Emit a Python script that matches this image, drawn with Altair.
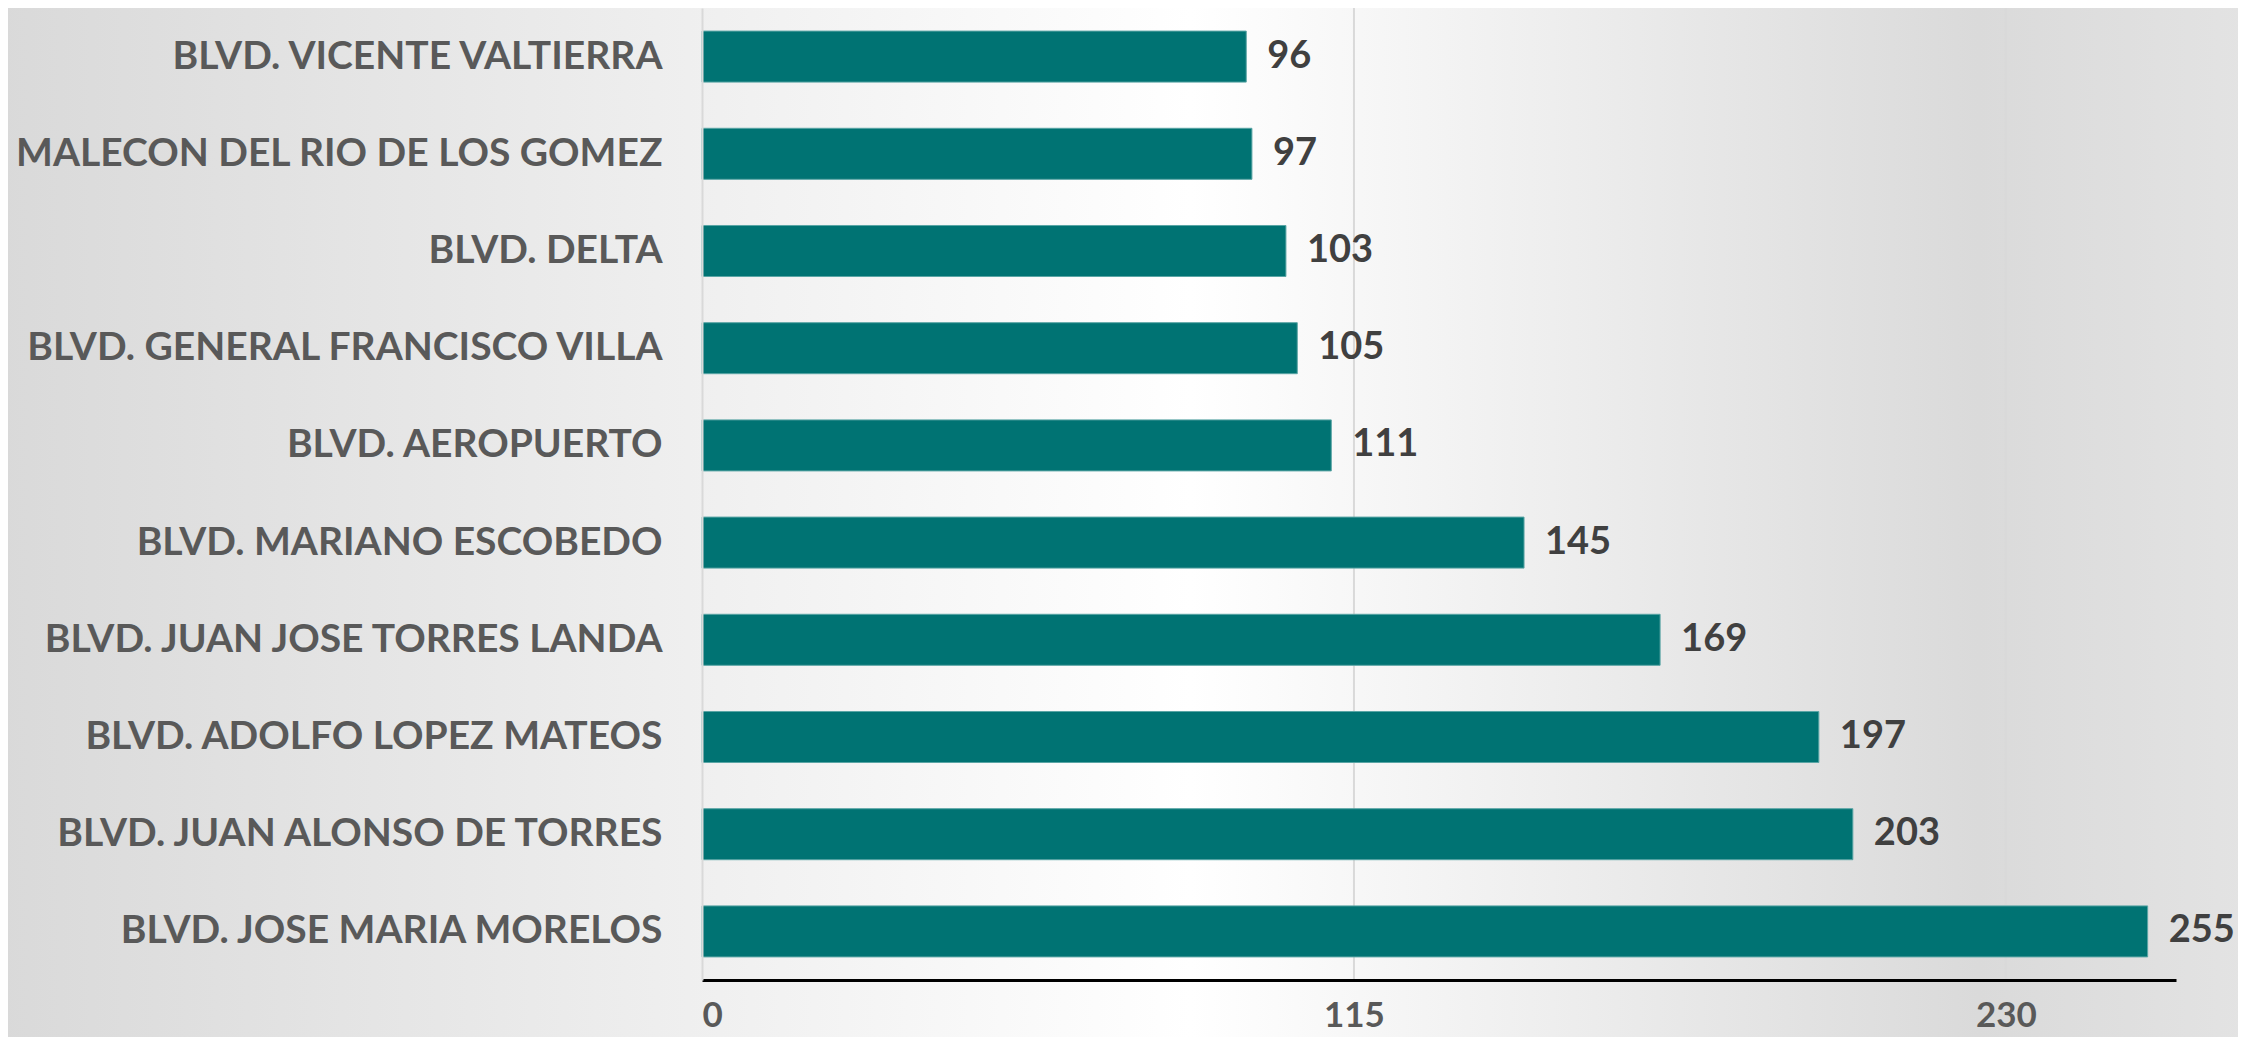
import altair as alt
import pandas as pd

streets = [
    "BLVD. VICENTE VALTIERRA",
    "MALECON DEL RIO DE LOS GOMEZ",
    "BLVD. DELTA",
    "BLVD. GENERAL FRANCISCO VILLA",
    "BLVD. AEROPUERTO",
    "BLVD. MARIANO ESCOBEDO",
    "BLVD. JUAN JOSE TORRES LANDA",
    "BLVD. ADOLFO LOPEZ MATEOS",
    "BLVD. JUAN ALONSO DE TORRES",
    "BLVD. JOSE MARIA MORELOS",
]
counts = [96, 97, 103, 105, 111, 145, 169, 197, 203, 255]
tick_values = [0, 115, 230]
grid_values = [115, 230]

W, H = 1474, 972
PAD_L, PAD_T, PAD_R, PAD_B = 694, 0, 62, 57
FONT = "Lato"

df = pd.DataFrame({"street": streets, "count": counts})
grid_df = pd.DataFrame({"v": grid_values})

xscale = alt.Scale(domain=[0, 260], nice=False, zero=True)
yscale = alt.Scale(domain=streets, paddingInner=0.475, paddingOuter=0.2375)

bg = alt.Chart(pd.DataFrame({"a": [0]})).mark_rect(
    fill=alt.Gradient(
        gradient="linear",
        x1=0, x2=1, y1=0, y2=0,
        stops=[
            alt.GradientStop(offset=0, color="#d9d9d9"),
            alt.GradientStop(offset=0.53, color="#ffffff"),
            alt.GradientStop(offset=0.88, color="#dadada"),
            alt.GradientStop(offset=1, color="#e3e3e3"),
        ],
    ),
    clip=False,
).encode(
    x=alt.value(-PAD_L - 10),
    x2=alt.value(W + PAD_R + 10),
    y=alt.value(-PAD_T - 10),
    y2=alt.value(H + PAD_B + 10),
)

grid = alt.Chart(grid_df).mark_rule(color="#d9d9d9", strokeWidth=2).encode(
    x=alt.X("v:Q", scale=xscale),
    y=alt.value(0),
    y2=alt.value(H),
)

bars = alt.Chart(df).mark_bar(color="#007373", stroke="#5aa5a5", strokeWidth=1).encode(
    x=alt.X(
        "count:Q",
        scale=xscale,
        axis=alt.Axis(
            values=tick_values,
            title=None,
            grid=False,
            ticks=False,
            domainColor="#000000",
            domainWidth=3,
            labelFont=FONT,
            labelFontSize=35,
            labelFontWeight="bold",
            labelColor="#595959",
            labelPadding=18,
            zindex=1,
        ),
    ),
    y=alt.Y(
        "street:N",
        scale=yscale,
        sort=streets,
        axis=alt.Axis(
            title=None,
            ticks=False,
            domainColor="#d9d9d9",
            domainWidth=2,
            labelFont=FONT,
            labelFontSize=39,
            labelFontWeight="bold",
            labelColor="#595959",
            labelPadding=40,
            labelLimit=1000,
            zindex=1,
        ),
    ),
)

text = alt.Chart(df).mark_text(
    align="left", baseline="middle", dx=21, font=FONT, fontSize=38,
    fontWeight="bold", color="#404040",
).encode(
    x=alt.X("count:Q", scale=xscale),
    y=alt.Y("street:N", scale=yscale, sort=streets),
    text="count:Q",
)

chart = alt.layer(bg, grid, bars, text).properties(
    width=W,
    height=H,
    autosize=alt.AutoSizeParams(type="none"),
    padding={"left": PAD_L, "top": PAD_T, "right": PAD_R, "bottom": PAD_B},
).configure_view(stroke=None).configure(background="#e0e0e0")

chart.save("out.html", embed_options={"renderer": "svg", "actions": False})
